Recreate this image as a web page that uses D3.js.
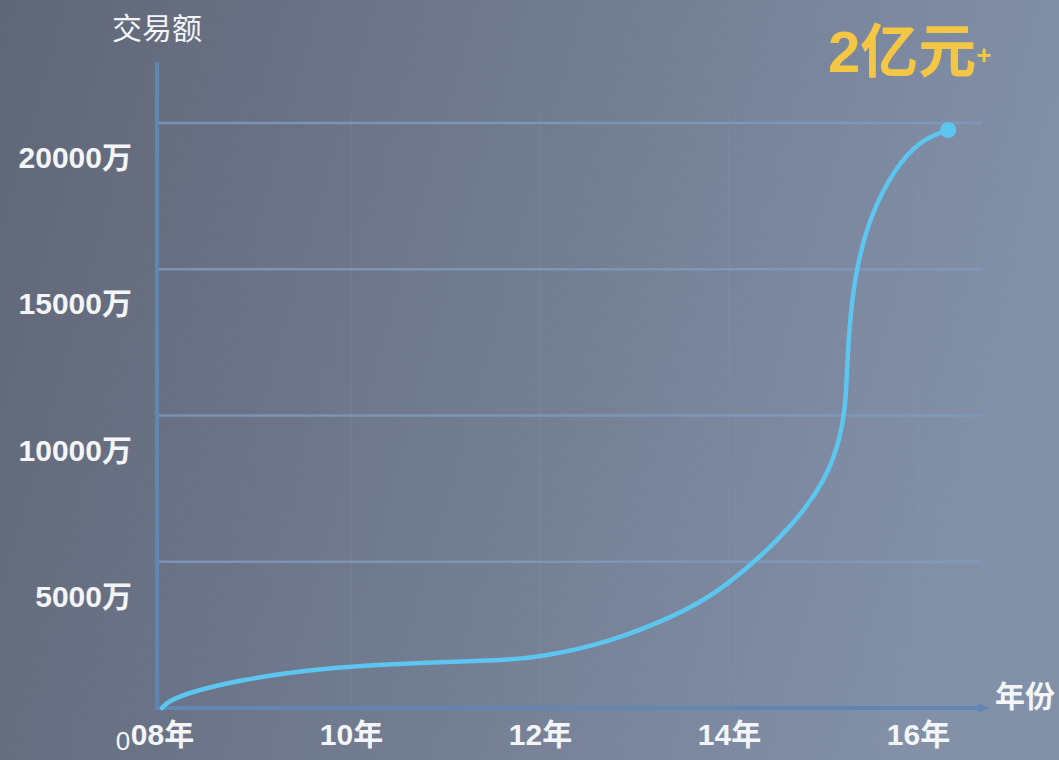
<!DOCTYPE html>
<html>
<head>
<meta charset="utf-8">
<script src="https://cdn.jsdelivr.net/npm/d3@7"></script>
<style>
  html, body { margin: 0; padding: 0; background: #6a7283; }
  svg { display: block; }
  .lbl { font-family: "Liberation Sans", "Noto Sans CJK SC", sans-serif; fill: #f3f5f8; font-weight: bold; }
</style>
</head>
<body>
<svg id="chart" width="1059" height="760"></svg>
<script>
// ---- data ----
const years  = [2008, 2008.06, 2008.3, 2008.83, 2009.53, 2010.23, 2010.94, 2011.65, 2012.0, 2012.71, 2013.41, 2013.94, 2014.68, 2015.04, 2015.17, 2015.23, 2015.25, 2015.28, 2015.35, 2015.49, 2015.74, 2016.02, 2016.32];
const values = [0, 220, 550, 960, 1300, 1470, 1570, 1640, 1740, 2220, 3110, 4030, 6190, 7900, 9160, 10190, 11660, 13370, 15080, 16790, 18390, 19420, 19760];
const xTickValues = [2008, 2010, 2012, 2014, 2016];
const xTickLabels = ["08年", "10年", "12年", "14年", "16年"];
const yTickValues = [5000, 10000, 15000, 20000];
const yTickLabels = ["5000万", "10000万", "15000万", "20000万"];
const yTitle = "交易额";
const xTitle = "年份";
const originLabel = "0";
const highlight = "2亿元";
const highlightSup = "+";

const svg = d3.select("#chart");
const W = 1059, H = 760;

// background gradient
const defs = svg.append("defs");
const bg = defs.append("linearGradient").attr("id", "bg").attr("x1", "0").attr("y1", "0").attr("x2", "1").attr("y2", "0.2");
bg.append("stop").attr("offset", "0").attr("stop-color", "#5f6677");
bg.append("stop").attr("offset", "0.55").attr("stop-color", "#737d91");
bg.append("stop").attr("offset", "1").attr("stop-color", "#8290a8");
svg.append("rect").attr("width", W).attr("height", H).attr("fill", "url(#bg)");

const axisColor = "#6186b2";
defs.append("marker").attr("id", "arrowR").attr("viewBox", "0 0 10 10").attr("refX", 2).attr("refY", 5)
  .attr("markerWidth", 3).attr("markerHeight", 3).attr("orient", "auto")
  .append("path").attr("d", "M0,1 L10,5 L0,9 Z").attr("fill", axisColor);

// scales
const x = d3.scaleLinear().domain([2008, 2016]).range([162, 918]);
const y = d3.scaleLinear().domain([0, 20000]).range([708, 123]);
const axX = 157, axY = 708, gridRight = 982;

// vertical faint grid
svg.append("g").selectAll("line").data(xTickValues.slice(1)).join("line")
  .attr("x1", d => x(d)).attr("x2", d => x(d)).attr("y1", 110).attr("y2", axY)
  .attr("stroke", "#9aa8c0").attr("stroke-opacity", 0.09).attr("stroke-width", 2);

// horizontal grid
svg.append("g").selectAll("line").data(yTickValues).join("line")
  .attr("x1", axX).attr("x2", gridRight).attr("y1", d => y(d)).attr("y2", d => y(d))
  .attr("stroke", "#809bbf").attr("stroke-opacity", 0.8).attr("stroke-width", 2.5);

// axes lines
svg.append("line").attr("x1", axX).attr("x2", axX).attr("y1", 62).attr("y2", axY + 2)
  .attr("stroke", axisColor).attr("stroke-width", 4);
svg.append("line").attr("x1", axX - 2).attr("x2", 980).attr("y1", axY).attr("y2", axY)
  .attr("stroke", axisColor).attr("stroke-width", 4).attr("marker-end", "url(#arrowR)");

// y axis labels
const yAxis = d3.axisLeft(y).tickValues(yTickValues).tickSize(0).tickPadding(25)
  .tickFormat((d, i) => yTickLabels[i]);
const gy = svg.append("g").attr("transform", `translate(${axX},0)`).call(yAxis);
gy.select(".domain").remove();
gy.selectAll("text").attr("class", "lbl").attr("font-size", 30).attr("transform", "translate(0,35)")
  .attr("font-family", null);

// x axis labels
const xAxis = d3.axisBottom(x).tickValues(xTickValues).tickSize(0).tickPadding(16)
  .tickFormat((d, i) => xTickLabels[i]);
const gx = svg.append("g").attr("transform", `translate(0,${axY})`).call(xAxis);
gx.select(".domain").remove();
gx.selectAll("text").attr("class", "lbl").attr("font-size", 30).attr("font-family", null);

// origin label
svg.append("text").attr("class", "lbl").attr("x", 123).attr("y", 750).attr("text-anchor", "middle")
  .attr("font-size", 26).style("font-weight", "normal").text(originLabel);

// titles
svg.append("text").attr("class", "lbl").attr("x", 157).attr("y", 39).attr("text-anchor", "middle")
  .attr("font-size", 30).style("font-weight", "normal").attr("fill", "#eef1f5").text(yTitle);
svg.append("text").attr("class", "lbl").attr("x", 1025).attr("y", 707).attr("text-anchor", "middle")
  .attr("font-size", 30).text(xTitle);

// curve
const pts = years.map((yr, i) => [yr, values[i]]);
const line = d3.line().x(d => x(d[0])).y(d => y(d[1])).curve(d3.curveBasis);
svg.append("path").attr("d", line(pts)).attr("fill", "none")
  .attr("stroke", "#5cc6f0").attr("stroke-width", 4.5).attr("stroke-linecap", "round");
const last = pts[pts.length - 1];
svg.append("circle").attr("cx", x(last[0])).attr("cy", y(last[1])).attr("r", 8).attr("fill", "#5cc6f0");

// highlight text
const ht = svg.append("text").attr("x", 828).attr("y", 72).attr("font-weight", "bold")
  .attr("font-family", "'Liberation Sans','Noto Sans CJK SC',sans-serif").attr("fill", "#f3c744");
ht.append("tspan").attr("font-size", 58).text(highlight);
ht.append("tspan").attr("font-size", 26).attr("dy", -8).text(highlightSup);
</script>
</body>
</html>
